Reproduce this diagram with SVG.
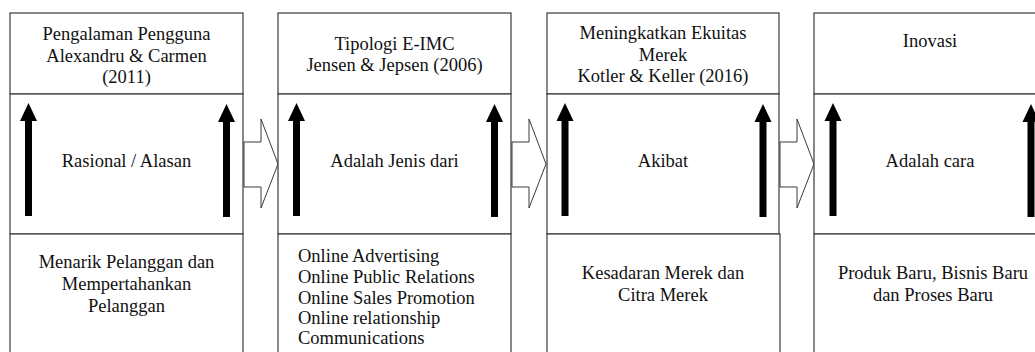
<svg xmlns="http://www.w3.org/2000/svg" width="1035" height="352" viewBox="0 0 1035 352">
<style>
.box{fill:#fff;stroke:#3a3a3a;stroke-width:1.2}
.t{font-family:'Liberation Serif',Tinos,'Times New Roman',Times,'DejaVu Serif',serif;font-size:18.5px;fill:#111}
.c{text-anchor:middle}
.blk{fill:#000}
.blockarrow{fill:#fff;stroke:#3a3a3a;stroke-width:1}
</style>
<defs>
<path id="up" d="M-3.5,216 V121 H-8.5 L0,103 L8.5,121 H3.5 V216 Z"/>
</defs>
<rect width="1035" height="352" fill="#fff"/>

<g id="connectors">
<path class="blockarrow" d="M244,142 H261 V119 L278,164 L261,208 V187 H244 Z"/>
<path class="blockarrow" d="M512,142 H529 V119 L546,164 L529,208 V187 H512 Z"/>
<path class="blockarrow" d="M780,142 H797 V119 L814,164 L797,208 V187 H780 Z"/>
</g>

<g id="node1">
<rect class="box" x="10" y="13" width="233" height="81"/>
<rect class="box" x="10" y="94" width="233" height="140"/>
<rect class="box" x="10" y="234" width="233" height="130"/>
<text class="t c" x="126.5" y="40">Pengalaman Pengguna</text>
<text class="t c" x="126.5" y="62">Alexandru &amp; Carmen</text>
<text class="t c" x="126.5" y="83">(2011)</text>
<use href="#up" class="blk" x="28.5" y="0"/>
<use href="#up" class="blk" x="226.5" y="1"/>
<text class="t c" x="126.5" y="167">Rasional / Alasan</text>
<text class="t c" x="126.5" y="268">Menarik Pelanggan dan</text>
<text class="t c" x="126.5" y="290">Mempertahankan</text>
<text class="t c" x="126.5" y="312">Pelanggan</text>
</g>

<g id="node2">
<rect class="box" x="278" y="13" width="233" height="81"/>
<rect class="box" x="278" y="94" width="233" height="140"/>
<rect class="box" x="278" y="234" width="233" height="130"/>
<text class="t c" x="394.5" y="50">Tipologi E-IMC</text>
<text class="t c" x="394.5" y="71">Jensen &amp; Jepsen (2006)</text>
<use href="#up" class="blk" x="296.5" y="0"/>
<use href="#up" class="blk" x="494.5" y="1"/>
<text class="t c" x="394.5" y="167">Adalah Jenis dari</text>
<text class="t" x="298" y="262">Online Advertising</text>
<text class="t" x="298" y="283">Online Public Relations</text>
<text class="t" x="298" y="304">Online Sales Promotion</text>
<text class="t" x="298" y="324">Online relationship</text>
<text class="t" x="298" y="344">Communications</text>
</g>

<g id="node3">
<rect class="box" x="547" y="13" width="232" height="81"/>
<rect class="box" x="547" y="94" width="232" height="140"/>
<rect class="box" x="547" y="234" width="233" height="130"/>
<text class="t c" x="663" y="39">Meningkatkan Ekuitas</text>
<text class="t c" x="663" y="61">Merek</text>
<text class="t c" x="663" y="82">Kotler &amp; Keller (2016)</text>
<use href="#up" class="blk" x="565" y="0"/>
<use href="#up" class="blk" x="763" y="1"/>
<text class="t c" x="663" y="167">Akibat</text>
<text class="t c" x="663" y="279">Kesadaran Merek dan</text>
<text class="t c" x="663" y="301">Citra Merek</text>
</g>

<g id="node4">
<rect class="box" x="814" y="13" width="240" height="81"/>
<rect class="box" x="814" y="94" width="240" height="140"/>
<rect class="box" x="814" y="234" width="240" height="130"/>
<text class="t c" x="930" y="47">Inovasi</text>
<use href="#up" class="blk" x="833" y="0"/>
<use href="#up" class="blk" x="1031" y="1"/>
<text class="t c" x="930" y="167">Adalah cara</text>
<text class="t c" x="933" y="279">Produk Baru, Bisnis Baru</text>
<text class="t c" x="933" y="301">dan Proses Baru</text>
</g>
</svg>
